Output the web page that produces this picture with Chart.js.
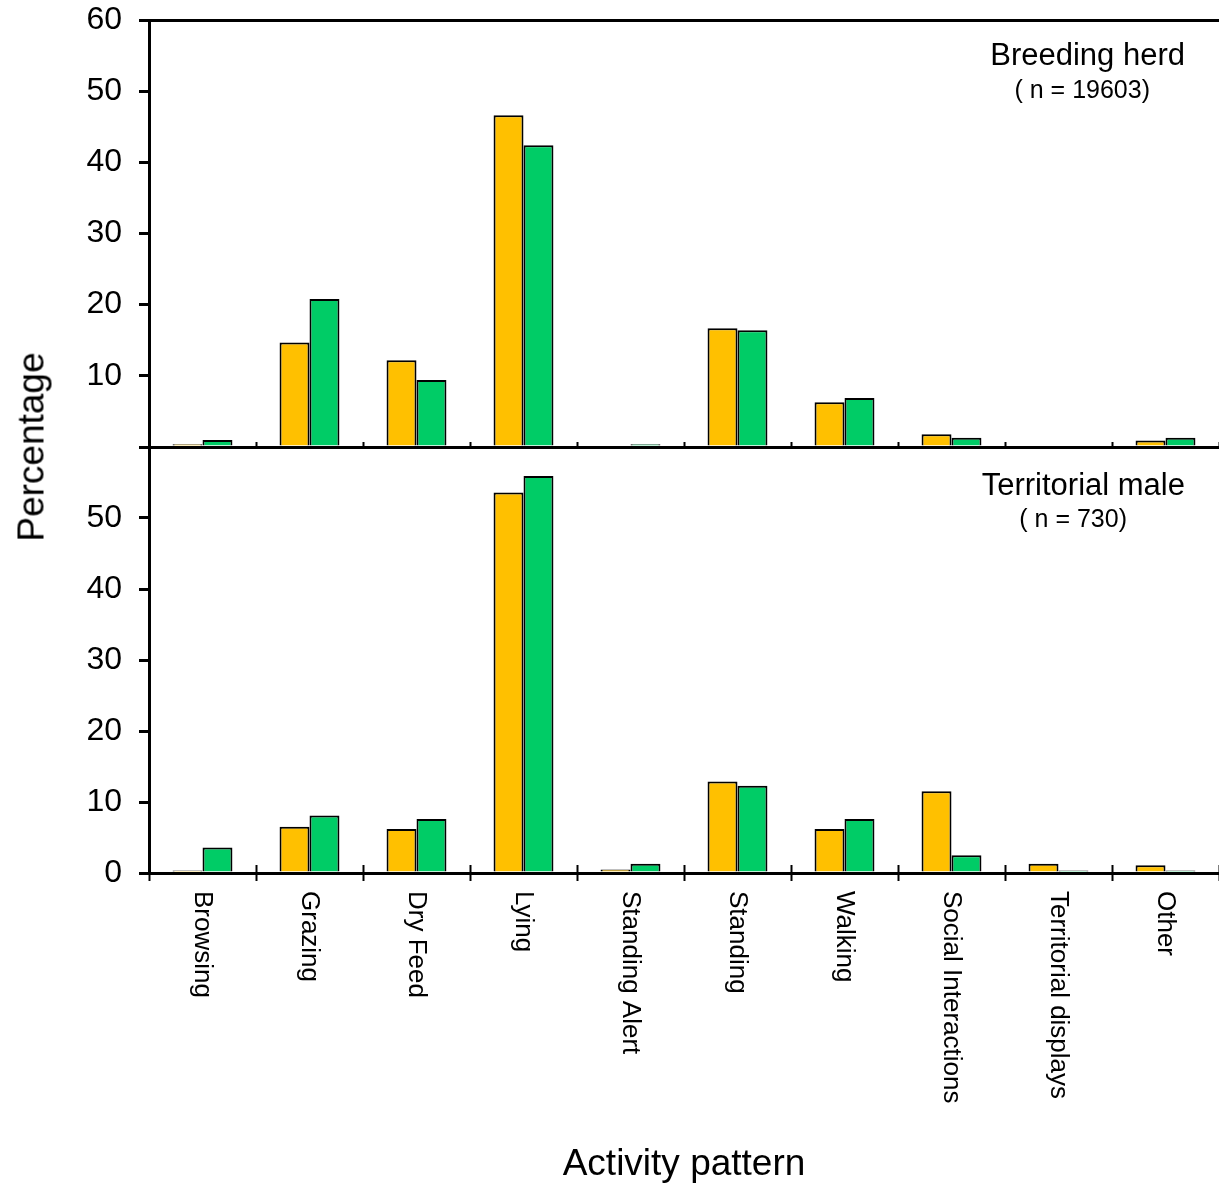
<!DOCTYPE html>
<html>
<head>
<meta charset="utf-8">
<script src="https://cdn.jsdelivr.net/npm/chart.js@4.4.1/dist/chart.umd.min.js"></script>
<style>
    body { margin: 0; background: #fff; font-family: "Liberation Sans", Arial, sans-serif; }
    #page { position: relative; width: 1219px; height: 1187px; overflow: hidden; }
    .panel { position: absolute; left: 0; width: 1219px; }
    #top-panel { top: 0; height: 470px; }
    #bottom-panel { top: 420px; height: 767px; }
    .txt { position: absolute; color: #000; white-space: nowrap; }
    .group-label { right: 34px; text-align: center; }
</style>
</head>
<body>
<div id="page">
    <div class="panel" id="top-panel"><canvas id="herdChart"></canvas></div>
    <div class="panel" id="bottom-panel"><canvas id="maleChart"></canvas></div>

    <div class="txt group-label" style="top:39px; font-size:31px; line-height:31px;">Breeding herd</div>
    <div class="txt group-label" style="top:77px; right:69px; font-size:25px; line-height:25px;">( n = 19603)</div>
    <div class="txt group-label" style="top:469px; font-size:31px; line-height:31px;">Territorial male</div>
    <div class="txt group-label" style="top:506px; right:92px; font-size:25px; line-height:25px;">( n = 730)</div>

    <div class="txt" style="left:31px; top:447px; font-size:37px; line-height:37px; transform: translate(-50%, -50%) rotate(-90deg);">Percentage</div>
    <div class="txt" style="left:684px; top:1144px; font-size:37px; line-height:37px; transform: translateX(-50%);">Activity pattern</div>
</div>

<script>
const categories = ['Browsing', 'Grazing', 'Dry Feed', 'Lying', 'Standing Alert',
    'Standing', 'Walking', 'Social Interactions', 'Territorial displays', 'Other'];

// breeding herd (n = 19603)
const herdYellow = [0.4, 14.7, 12.2, 46.6, 0.2, 16.7, 6.3, 1.8, 0, 0.9];
const herdGreen  = [1.0, 20.8, 9.4, 42.4, 0.4, 16.4, 6.9, 1.3, 0, 1.3];

// territorial male (n = 730)
const maleYellow = [0.2, 6.5, 6.2, 53.6, 0.5, 12.9, 6.2, 11.5, 1.3, 1.1];
const maleGreen  = [3.6, 8.1, 7.6, 55.9, 1.3, 12.3, 7.6, 2.5, 0.2, 0.2];

const yTicks = [0, 10, 20, 30, 40, 50, 60];

const YELLOW = '#FFC000';
const GREEN = '#00CC66';
const FONT = '"Liberation Sans", Arial, sans-serif';

function datasets(yellow, green, minLen) {
    return [
        { label: 'Yellow', data: yellow, backgroundColor: YELLOW },
        { label: 'Green', data: green, backgroundColor: GREEN }
    ].map(d => ({
        ...d,
        borderColor: '#000',
        borderWidth: 2,
        minBarLength: minLen,
        categoryPercentage: 0.56,
        barPercentage: 1.0
    }));
}

function yScale(hiddenLabel) {
    return {
        min: 0,
        max: 60,
        afterBuildTicks: s => { s.ticks = yTicks.map(v => ({ value: v })); },
        afterFit: s => {
            s.width = 149;
            s.paddingTop = 0;
            s.paddingBottom = 0;
        },
        border: { display: true, color: '#000', width: 3 },
        grid: {
            // only the top value gets a line across (frame top)
            color: c => c.tick && c.tick.value === 60 ? '#000' : 'rgba(0,0,0,0)',
            lineWidth: 3,
            tickColor: '#000',
            tickWidth: 3,
            tickLength: 10
        },
        ticks: {
            padding: 17,
            color: '#000',
            font: { family: FONT, size: 32 },
            callback: v => v === hiddenLabel ? '' : v
        }
    };
}

// labels read top-to-bottom under the lower panel
const verticalLabels = {
    id: 'verticalLabels',
    afterDraw(chart) {
        const { ctx } = chart;
        const x = chart.scales.x;
        ctx.save();
        ctx.font = '26px ' + FONT;
        ctx.fillStyle = '#000';
        ctx.textAlign = 'left';
        ctx.textBaseline = 'middle';
        categories.forEach((label, i) => {
            ctx.save();
            ctx.translate(x.getPixelForValue(i), x.top + 18);
            ctx.rotate(Math.PI / 2);
            ctx.fillText(label, 0, 0);
            ctx.restore();
        });
        ctx.restore();
    }
};

const common = {
    responsive: true,
    maintainAspectRatio: false,
    animation: false,
    plugins: { legend: { display: false }, tooltip: { enabled: false } }
};

function noSidePad(s) {
    s.paddingLeft = 0;
    s.paddingRight = 0;
}

new Chart(document.getElementById('herdChart'), {
    type: 'bar',
    data: { labels: categories, datasets: datasets(herdYellow, herdGreen, 0) },
    options: {
        ...common,
        layout: { padding: { top: 20, left: 0, right: 0, bottom: 0 } },
        scales: {
            x: {
                offset: true,
                afterFit: s => { s.height = 23; noSidePad(s); },
                border: { display: true, color: '#000', width: 3 },
                grid: {
                    offset: true,
                    drawOnChartArea: false,
                    tickColor: '#000',
                    tickWidth: 2,
                    tickLength: -5
                },
                ticks: { display: false }
            },
            y: yScale(0)
        }
    }
});

new Chart(document.getElementById('maleChart'), {
    type: 'bar',
    data: { labels: categories, datasets: datasets(maleYellow, maleGreen, 2.5) },
    options: {
        ...common,
        layout: { padding: { top: 27, left: 0, right: 0, bottom: 0 } },
        scales: {
            // upper half of the crossing tick marks
            xUp: {
                type: 'category',
                position: 'bottom',
                weight: 0,
                offset: true,
                afterFit: s => { s.height = 0; noSidePad(s); },
                border: { display: false },
                grid: {
                    offset: true,
                    drawOnChartArea: false,
                    tickColor: '#000',
                    tickWidth: 2,
                    tickLength: -8
                },
                ticks: { display: false }
            },
            x: {
                position: 'bottom',
                weight: 1,
                offset: true,
                afterFit: s => { s.height = 314; noSidePad(s); },
                border: { display: true, color: '#000', width: 3 },
                grid: {
                    offset: true,
                    drawOnChartArea: false,
                    tickColor: '#000',
                    tickWidth: 2,
                    tickLength: 8
                },
                ticks: { display: false }
            },
            y: yScale(60)
        }
    },
    plugins: [verticalLabels]
});
</script>
</body>
</html>
